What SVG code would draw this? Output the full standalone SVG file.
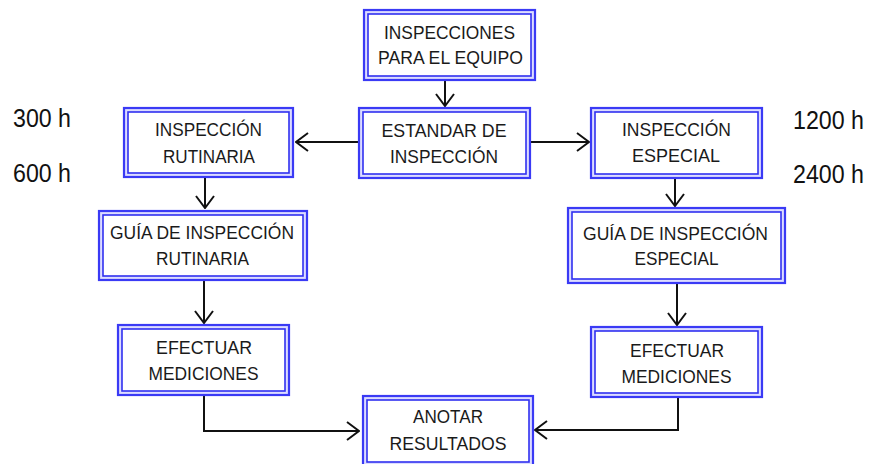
<svg xmlns="http://www.w3.org/2000/svg" width="871" height="464" viewBox="0 0 871 464">
<style>
.o{fill:#dcdcff;stroke:#3a3af5;stroke-width:2.2}
.i{fill:#ffffff;stroke:#3030f0;stroke-width:1.6}
.t{font-family:"Liberation Sans",Arial,sans-serif;font-size:18px;fill:#1a1a1a;text-anchor:middle}
.s{font-family:"Liberation Sans",Arial,sans-serif;font-size:25px;fill:#111}
.c{fill:none;stroke:#111;stroke-width:2}
</style>
<defs>
<marker id="ah" viewBox="0 0 14 20" refX="13" refY="10" markerWidth="14" markerHeight="20" markerUnits="userSpaceOnUse" orient="auto">
<path d="M1,1 L13,10 L1,19" fill="none" stroke="#111" stroke-width="2"/>
</marker>
</defs>
<rect width="871" height="464" fill="#ffffff"/>
<g id="connectors">
<path class="c" d="M445,80 V106" marker-end="url(#ah)"/>
<path class="c" d="M359,142 H296" marker-end="url(#ah)"/>
<path class="c" d="M530,142 H589" marker-end="url(#ah)"/>
<path class="c" d="M205,177 V208" marker-end="url(#ah)"/>
<path class="c" d="M204,280 V323" marker-end="url(#ah)"/>
<path class="c" d="M675,178 V206" marker-end="url(#ah)"/>
<path class="c" d="M677,283 V325" marker-end="url(#ah)"/>
<path class="c" d="M204,395 V431 H359" marker-end="url(#ah)"/>
<path class="c" d="M678,397 V430 H535" marker-end="url(#ah)"/>
</g>
<g id="n_equipo">
<rect class="o" x="364" y="10" width="171" height="70"/>
<rect class="i" x="368" y="14" width="163" height="62"/>
<text class="t" x="449.5" y="39" textLength="131" lengthAdjust="spacingAndGlyphs">INSPECCIONES</text>
<text class="t" x="450.5" y="64" textLength="145" lengthAdjust="spacingAndGlyphs">PARA EL EQUIPO</text>
</g>
<g id="n_estandar">
<rect class="o" x="359" y="108" width="171" height="70"/>
<rect class="i" x="363" y="112" width="163" height="62"/>
<text class="t" x="444" y="137" textLength="125" lengthAdjust="spacingAndGlyphs">ESTANDAR DE</text>
<text class="t" x="444" y="163" textLength="108" lengthAdjust="spacingAndGlyphs">INSPECCIÓN</text>
</g>
<g id="n_rutinaria">
<rect class="o" x="124" y="108" width="169" height="69"/>
<rect class="i" x="128" y="112" width="161" height="61"/>
<text class="t" x="208.5" y="136" textLength="107" lengthAdjust="spacingAndGlyphs">INSPECCIÓN</text>
<text class="t" x="209" y="162.5" textLength="92" lengthAdjust="spacingAndGlyphs">RUTINARIA</text>
</g>
<g id="n_especial">
<rect class="o" x="591" y="108" width="171" height="70"/>
<rect class="i" x="595" y="112" width="163" height="62"/>
<text class="t" x="676.5" y="136" textLength="109" lengthAdjust="spacingAndGlyphs">INSPECCIÓN</text>
<text class="t" x="676" y="162" textLength="88" lengthAdjust="spacingAndGlyphs">ESPECIAL</text>
</g>
<g id="n_guia_rut">
<rect class="o" x="99" y="211" width="208" height="69"/>
<rect class="i" x="103" y="215" width="200" height="61"/>
<text class="t" x="202" y="239" textLength="184" lengthAdjust="spacingAndGlyphs">GUÍA DE INSPECCIÓN</text>
<text class="t" x="202.5" y="265" textLength="93" lengthAdjust="spacingAndGlyphs">RUTINARIA</text>
</g>
<g id="n_guia_esp">
<rect class="o" x="568" y="208" width="217" height="75"/>
<rect class="i" x="572" y="212" width="209" height="67"/>
<text class="t" x="675.5" y="240" textLength="185" lengthAdjust="spacingAndGlyphs">GUÍA DE INSPECCIÓN</text>
<text class="t" x="676.5" y="265" textLength="84" lengthAdjust="spacingAndGlyphs">ESPECIAL</text>
</g>
<g id="n_efectuar_izq">
<rect class="o" x="118" y="325" width="171" height="70"/>
<rect class="i" x="122" y="329" width="163" height="62"/>
<text class="t" x="204" y="354" textLength="96" lengthAdjust="spacingAndGlyphs">EFECTUAR</text>
<text class="t" x="203.5" y="380" textLength="110" lengthAdjust="spacingAndGlyphs">MEDICIONES</text>
</g>
<g id="n_efectuar_der">
<rect class="o" x="591" y="327" width="171" height="70"/>
<rect class="i" x="595" y="331" width="163" height="62"/>
<text class="t" x="677" y="357" textLength="94" lengthAdjust="spacingAndGlyphs">EFECTUAR</text>
<text class="t" x="676.5" y="383" textLength="110" lengthAdjust="spacingAndGlyphs">MEDICIONES</text>
</g>
<g id="n_anotar">
<rect class="o" x="363" y="396" width="170" height="70"/>
<rect class="i" x="367" y="400" width="162" height="62"/>
<text class="t" x="448" y="423" textLength="70" lengthAdjust="spacingAndGlyphs">ANOTAR</text>
<text class="t" x="448" y="450" textLength="117" lengthAdjust="spacingAndGlyphs">RESULTADOS</text>
</g>
<g id="labels">
<text class="s" x="13" y="127" textLength="58" lengthAdjust="spacingAndGlyphs">300 h</text>
<text class="s" x="13" y="182" textLength="58" lengthAdjust="spacingAndGlyphs">600 h</text>
<text class="s" x="793" y="129" textLength="71" lengthAdjust="spacingAndGlyphs">1200 h</text>
<text class="s" x="793" y="183" textLength="71" lengthAdjust="spacingAndGlyphs">2400 h</text>
</g>
</svg>
